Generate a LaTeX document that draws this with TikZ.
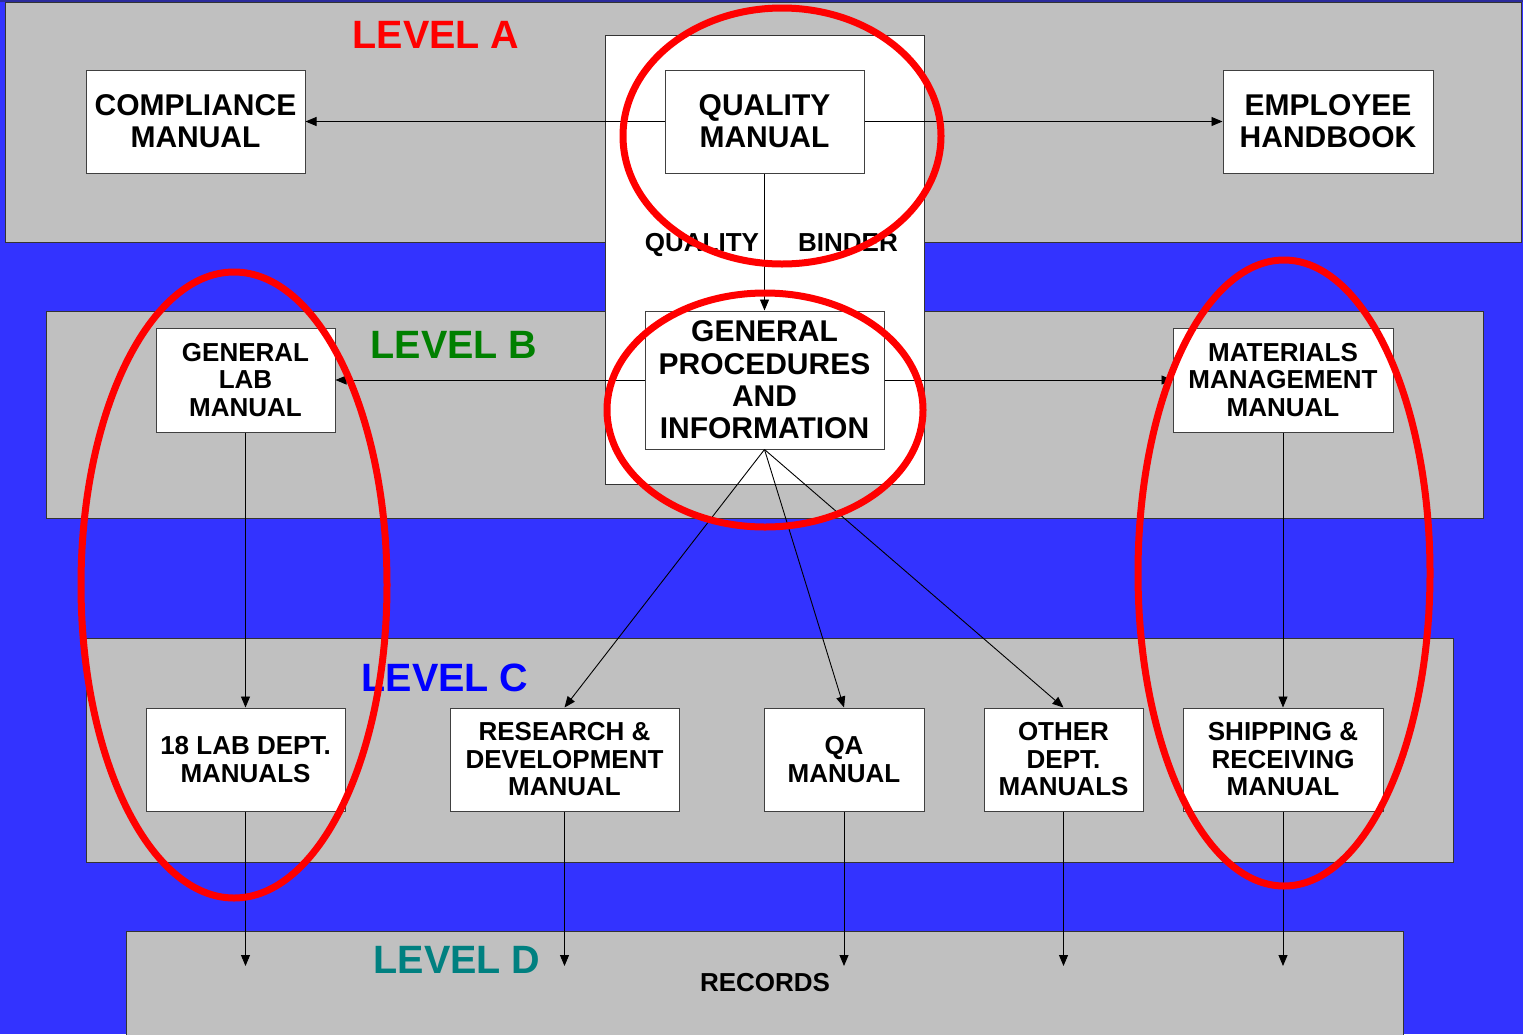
\documentclass[tikz,border=0pt]{standalone}
\usepackage{fontspec}
\setmainfont{Liberation Sans}
\usetikzlibrary{arrows.meta}
\definecolor{bgblue}{HTML}{3333FF}
\definecolor{topline}{HTML}{2B2B9C}
\definecolor{panelgray}{HTML}{C0C0C0}
\definecolor{lvlgreen}{HTML}{008000}
\definecolor{lvlteal}{HTML}{008080}
\begin{document}
\begin{tikzpicture}[x=1pt,y=-1pt,
  panel/.style={fill=panelgray,draw=black!80,line width=1pt},
  manual/.style={draw=black!75,fill=white,line width=1pt,inner sep=0pt,align=center,
    font=\bfseries\fontsize{26}{27.5}\selectfont},
  bigmanual/.style={manual,font=\bfseries\fontsize{30}{32.3}\selectfont},
  level/.style={font=\bfseries\fontsize{39.5}{41}\selectfont,inner sep=0pt},
  tag/.style={font=\bfseries\fontsize{26}{28}\selectfont,inner sep=0pt},
  link/.style={line width=0.9pt,-{Triangle[length=11pt,width=9pt]}},
  ring/.style={draw=red,line width=7pt}
]
\useasboundingbox (0,0) rectangle (1523,1034);
\fill[bgblue] (0,0) rectangle (1523,1034);
\draw[topline,line width=2pt] (0,1) -- (1523,1);

% level panels
\draw[panel] (5,2) rectangle (1521,242);
\draw[panel] (46,311) rectangle (1483,518);
\draw[panel] (86,638) rectangle (1453,862);
\draw[panel] (126,931) rectangle (1403,1040);

% quality binder backdrop
\draw[fill=white,draw=black!80,line width=1pt] (605,35) rectangle (924,484);

% manuals
\node[bigmanual,minimum width=219pt,minimum height=103pt] (comp) at (195.5,121.5) {COMPLIANCE\\MANUAL};
\node[bigmanual,minimum width=199pt,minimum height=103pt] (qm) at (764.5,121.5) {QUALITY\\MANUAL};
\node[bigmanual,minimum width=210pt,minimum height=103pt] (emp) at (1328,121.5) {EMPLOYEE\\HANDBOOK};
\node[bigmanual,minimum width=239pt,minimum height=138pt] (gp) at (764.5,380) {GENERAL\\PROCEDURES\\AND\\INFORMATION};
\node[manual,minimum width=179pt,minimum height=104pt] (gl) at (245.5,380) {GENERAL\\LAB\\MANUAL};
\node[manual,minimum width=220pt,minimum height=104pt] (mm) at (1283,380) {MATERIALS\\MANAGEMENT\\MANUAL};
\node[manual,minimum width=199pt,minimum height=103pt] (lab) at (245.5,759.5) {18 LAB DEPT.\\MANUALS};
\node[manual,minimum width=229pt,minimum height=103pt] (rd) at (564.5,759.5) {RESEARCH \&\\DEVELOPMENT\\MANUAL};
\node[manual,minimum width=160pt,minimum height=103pt] (qa) at (844,759.5) {QA\\MANUAL};
\node[manual,minimum width=159pt,minimum height=103pt] (oth) at (1063.5,759.5) {OTHER\\DEPT.\\MANUALS};
\node[manual,minimum width=200pt,minimum height=103pt] (sr) at (1283,759.5) {SHIPPING \&\\RECEIVING\\MANUAL};

% record ends
\coordinate (dlab) at (245.5,966);
\coordinate (drd) at (564.5,966);
\coordinate (dqa) at (844,966);
\coordinate (doth) at (1063.5,966);
\coordinate (dsr) at (1283,966);

% connectors
\draw[link] (qm.west) -- (comp.east);
\draw[link] (qm.east) -- (emp.west);
\draw[link] (qm.south) -- (gp.north);
\draw[link] (gp.west) -- (gl.east);
\draw[link] (gp.east) -- (mm.west);
\draw[link] (gp.south) -- (rd.north);
\draw[link] (gp.south) -- (qa.north);
\draw[link] (gp.south) -- (oth.north);
\draw[link] (gl.south) -- (lab.north);
\draw[link] (mm.south) -- (sr.north);
\draw[link] (lab.south) -- (dlab);
\draw[link] (rd.south) -- (drd);
\draw[link] (qa.south) -- (dqa);
\draw[link] (oth.south) -- (doth);
\draw[link] (sr.south) -- (dsr);

% labels
\node[level,text=red,anchor=base] (lva) at (436,48) {LEVEL A};
\node[level,text=lvlgreen,anchor=base] (lvb) at (454,358) {LEVEL B};
\node[level,text=blue,anchor=base] (lvc) at (445,691) {LEVEL C};
\node[level,text=lvlteal,anchor=base] (lvd) at (457,973) {LEVEL D};
\node[tag,anchor=base] (qlab) at (702,251) {QUALITY};
\node[tag,anchor=base] (blab) at (848,251) {BINDER};
\node[tag,anchor=base] (rec) at (765,991) {RECORDS};

% highlight rings
\draw[ring] (782,136) ellipse [x radius=159pt, y radius=128pt];
\draw[ring] (765,410) ellipse [x radius=158pt, y radius=117pt];
\draw[ring] (234,585) ellipse [x radius=153pt, y radius=313pt];
\draw[ring] (1284,573) ellipse [x radius=146pt, y radius=313pt];
\end{tikzpicture}
\end{document}
